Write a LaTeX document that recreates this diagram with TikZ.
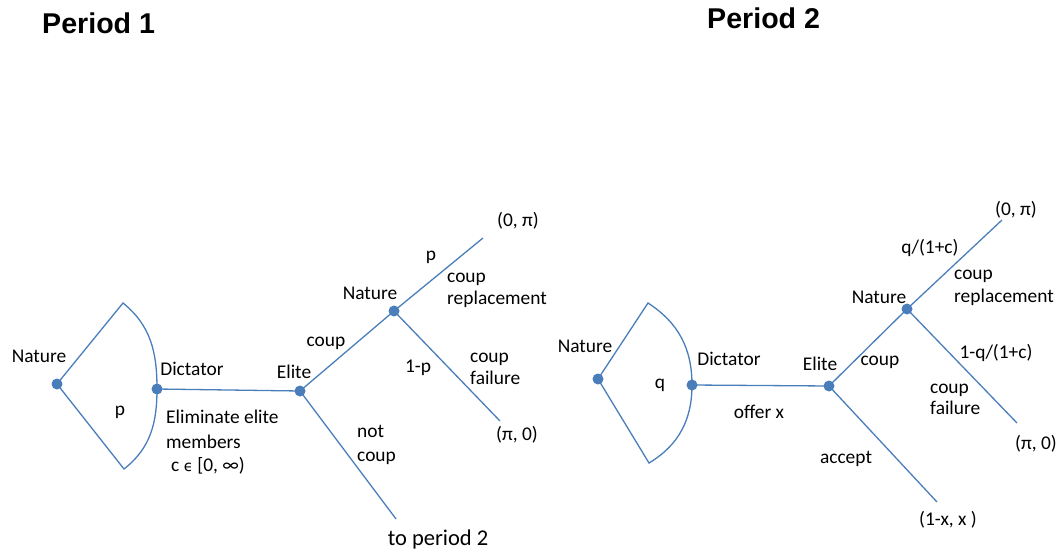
\documentclass[tikz,border=0pt]{standalone}
\usepackage{fontspec}
\setmainfont{Carlito}
\newfontfamily\titlefont{Liberation Sans}
\newfontfamily\dvfont{DejaVu Sans}
\definecolor{treeblue}{HTML}{4A7EBB}
\newcommand\labsize{\fontsize{19.4}{23}\selectfont}
\tikzset{
  dot/.style={circle,fill=treeblue,inner sep=0pt,minimum size=11pt},
  branch/.style={draw=treeblue,line width=1.3pt},
  lab/.style={inner sep=0pt,anchor=base,font=\labsize,text=black},
  labw/.style={lab,anchor=base west},
  ttl/.style={inner sep=0pt,anchor=base west,font=\titlefont\bfseries\fontsize{28.6}{32}\selectfont}
}
\begin{document}
\begin{tikzpicture}[x=1pt,y=1pt]
\useasboundingbox (0,0) rectangle (1061,-554);
% titles
\node[ttl] (title1) at (42,-34) {Period 1};
\node[ttl] (title2) at (707,-28) {Period 2};
% ---------- Period 1 ----------
\coordinate (N1) at (57,-384);
\coordinate (D1) at (157,-389);
\coordinate (T1) at (123,-303);
\coordinate (U1) at (124,-469);
\coordinate (A1) at (483,-238);
\coordinate (B1) at (500,-421);
\coordinate (C1) at (396,-519);
\coordinate (E1c) at (300,-391);
\coordinate (M1c) at (394,-311);
\draw[branch] (N1) -- (T1) to[out=-39,in=90] (D1) to[out=-90,in=38] (U1) -- cycle;
\draw[branch] (D1) -- (E1c);
\draw[branch] (E1c) -- (M1c);
\draw[branch] (M1c) -- (A1);
\draw[branch] (M1c) -- (B1);
\draw[branch] (E1c) -- (C1);
\node[dot] (nat1) at (N1) {};
\node[dot] (dic1) at (D1) {};
\node[dot] (eli1) at (E1c) {};
\node[dot] (nat1b) at (M1c) {};
\node[lab] (lnat1) at (39,-362) {Nature};
\node[lab] (lp1) at (120,-415) {p};
\node[lab] (ldic1) at (192,-375) {Dictator};
\node[labw] (lelim1) at (166,-423) {Eliminate elite};
\node[labw] (lelim2) at (166,-448) {members};
\node[labw] (lelim3) at (171,-471) {c {\dvfont\fontsize{15}{18}\selectfont\symbol{"03F5}} [0, ∞)};
\node[lab] (leli1) at (294,-378) {Elite};
\node[lab] (lcoup1) at (326,-346) {coup};
\node[lab] (lnatb1) at (370,-299) {Nature};
\node[lab] (lpp1) at (431,-260) {p};
\node[labw] (lrep1a) at (447,-282) {coup};
\node[labw] (lrep1b) at (447,-304) {replacement};
\node[lab] (lop1) at (518,-226) {(0, π)};
\node[lab] (l1p1) at (418,-372) {1-p};
\node[labw] (lfail1a) at (470,-362) {coup};
\node[labw] (lfail1b) at (470,-384) {failure};
\node[lab] (lpo1) at (517,-440) {(π, 0)};
\node[labw] (lnot1a) at (357,-437) {not};
\node[labw] (lnot1b) at (357,-461) {coup};
\node[lab,font=\fontsize{22.5}{27}\selectfont] (lto1) at (438,-545) {to period 2};
% ---------- Period 2 ----------
\coordinate (N2) at (598,-379);
\coordinate (D2) at (692,-385);
\coordinate (T2) at (648,-303);
\coordinate (U2) at (649,-463);
\coordinate (A2) at (1002,-220);
\coordinate (B2) at (1017,-423);
\coordinate (C2) at (937,-502);
\coordinate (E2c) at (829,-386);
\coordinate (M2c) at (907,-309);
\draw[branch] (N2) -- (T2) to[out=-33,in=90] (D2) to[out=-90,in=31] (U2) -- cycle;
\draw[branch] (D2) -- (E2c);
\draw[branch] (E2c) -- (M2c);
\draw[branch] (M2c) -- (A2);
\draw[branch] (M2c) -- (B2);
\draw[branch] (E2c) -- (C2);
\node[dot] (nat2) at (N2) {};
\node[dot] (dic2) at (D2) {};
\node[dot] (eli2) at (E2c) {};
\node[dot] (nat2b) at (M2c) {};
\node[lab] (lnat2) at (585,-352) {Nature};
\node[lab] (lq2) at (660,-388) {q};
\node[lab] (ldic2) at (729,-365) {Dictator};
\node[lab] (loff2) at (759,-418) {offer x};
\node[lab] (leli2) at (820,-370) {Elite};
\node[lab] (lcoup2) at (880,-365) {coup};
\node[lab] (lnatb2) at (879,-303) {Nature};
\node[lab] (lq2b) at (930,-253) {q/(1+c)};
\node[labw] (lrep2a) at (954,-279) {coup};
\node[labw] (lrep2b) at (954,-302) {replacement};
\node[lab] (lop2) at (1016,-215) {(0, π)};
\node[lab] (l1q2) at (996,-358) {1-q/(1+c)};
\node[labw] (lfail2a) at (930,-393) {coup};
\node[labw] (lfail2b) at (930,-414) {failure};
\node[lab] (lpo2) at (1036,-449) {(π, 0)};
\node[lab] (lacc2) at (846,-463) {accept};
\node[lab] (lres2) at (948,-525) {(1-x, x )};
\end{tikzpicture}
\end{document}
